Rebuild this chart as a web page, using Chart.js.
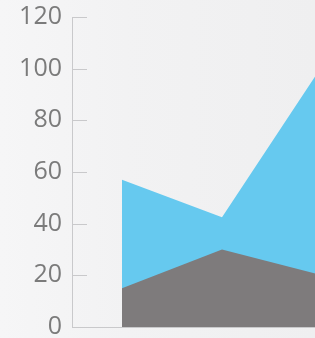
<!DOCTYPE html>
<html>
<head>
<meta charset="utf-8">
<script src="https://cdn.jsdelivr.net/npm/chart.js@4.4.1/dist/chart.umd.min.js"></script>
<style>
    html, body { margin: 0; padding: 0; }
    body {
        width: 315px; height: 338px; overflow: hidden;
        background: linear-gradient(90deg, #f6f6f7 0%, #f2f2f3 40%, #efeff0 100%);
    }
    #wrap { position: relative; width: 315px; height: 338px; overflow: hidden; }
    #wrap canvas { position: absolute; left: 0; top: 0; }
</style>
</head>
<body>
<div id="wrap"><canvas id="chart" width="372" height="344"></canvas></div>
<script>
    // Values
    const categories = ['A', 'B', 'C'];
    const graySeries = [15, 30, 20];
    const blueSeries = [57, 42.5, 101];
    const yTicks = [0, 20, 40, 60, 80, 100, 120];

    const axisColor = '#c9c9cb';

    // short tick marks drawn on the inside of the y axis
    const innerTicks = {
        id: 'innerTicks',
        afterDraw(chart) {
            const y = chart.scales.y;
            const ctx = chart.ctx;
            ctx.save();
            ctx.strokeStyle = axisColor;
            ctx.lineWidth = 1;
            yTicks.forEach(v => {
                const py = Math.round(y.getPixelForValue(v)) + 0.5;
                ctx.beginPath();
                ctx.moveTo(y.right, py);
                ctx.lineTo(y.right + 15, py);
                ctx.stroke();
            });
            ctx.restore();
        }
    };

    const ctx = document.getElementById('chart').getContext('2d');
    new Chart(ctx, {
        type: 'line',
        data: {
            labels: categories,
            datasets: [{
                data: graySeries,
                backgroundColor: '#7e7b7c',
                borderWidth: 0,
                pointRadius: 0,
                tension: 0,
                fill: 'origin'
            }, {
                data: blueSeries,
                backgroundColor: '#66c9ef',
                borderWidth: 0,
                pointRadius: 0,
                tension: 0,
                fill: 'origin'
            }]
        },
        options: {
            responsive: false,
            animation: false,
            layout: { padding: { top: 2, bottom: 0, left: 0, right: 0 } },
            plugins: { legend: { display: false }, tooltip: { enabled: false } },
            scales: {
                x: {
                    offset: true,
                    grid: { display: false },
                    border: { display: true, color: axisColor },
                    ticks: { display: false }
                },
                y: {
                    min: 0,
                    max: 120,
                    afterBuildTicks: scale => {
                        scale.ticks = yTicks.map(v => ({ value: v }));
                    },
                    afterFit: scale => { scale.width = 72; },
                    grid: { display: false },
                    border: { display: true, color: axisColor },
                    ticks: {
                        color: '#7b7b7b',
                        padding: 2,
                        font: { family: 'Open Sans', size: 25 }
                    }
                }
            }
        },
        plugins: [innerTicks]
    });
</script>
</body>
</html>
